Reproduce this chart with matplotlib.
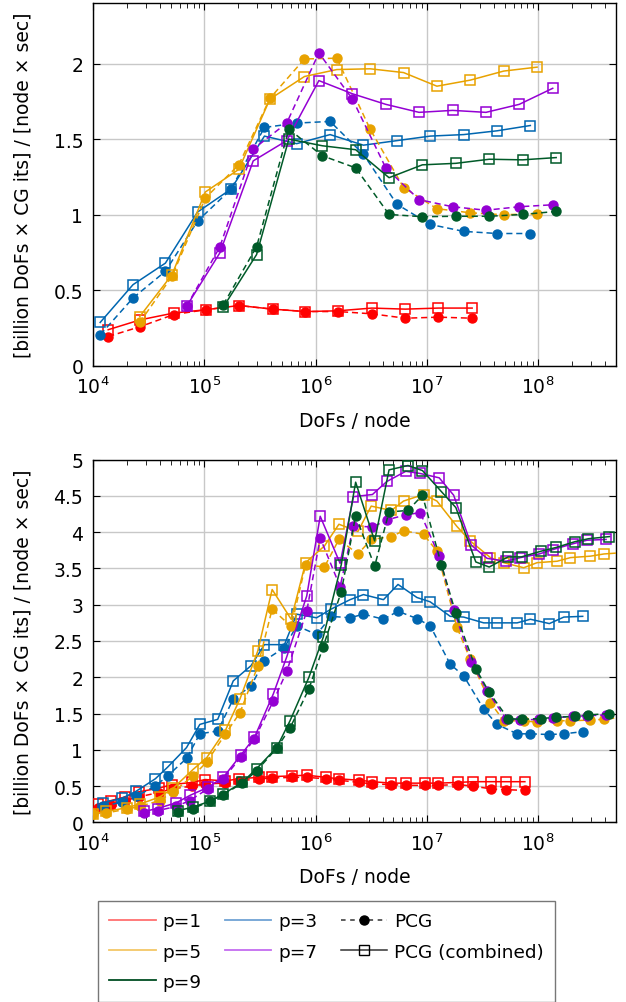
import matplotlib
matplotlib.use("Agg")
import matplotlib.pyplot as plt
from matplotlib.lines import Line2D
from matplotlib.ticker import LogLocator, FixedLocator, FixedFormatter, NullFormatter

plt.rcParams['font.family'] = ['DejaVu Sans']
plt.rcParams['mathtext.fontset'] = 'dejavusans'

# ---------------- data: top panel ----------------
top_p1_x = [1.37e4, 2.65e4, 5.3e4, 1.03e5, 2.05e5, 4.1e5, 8.1e5, 1.6e6, 3.2e6, 6.4e6, 1.27e7, 2.55e7]
top_p1_pcg = [0.195, 0.26, 0.34, 0.372, 0.40, 0.376, 0.36, 0.36, 0.345, 0.316, 0.323, 0.316]
top_p1_comb = [0.24, 0.305, 0.35, 0.372, 0.40, 0.376, 0.36, 0.365, 0.383, 0.376, 0.383, 0.383]

top_p3_x = [1.16e4, 2.29e4, 4.47e4, 8.7e4, 1.74e5, 3.47e5, 6.76e5, 1.35e6, 2.69e6, 5.37e6, 1.07e7, 2.14e7, 4.27e7, 8.5e7]
top_p3_pcg = [0.206, 0.45, 0.626, 0.958, 1.17, 1.577, 1.606, 1.617, 1.40, 1.07, 0.936, 0.89, 0.876, 0.876]
top_p3_comb = [0.288, 0.538, 0.68, 1.018, 1.17, 1.52, 1.47, 1.53, 1.46, 1.49, 1.52, 1.53, 1.555, 1.59]

top_p5_x = [2.63e4, 5.13e4, 1.02e5, 2.04e5, 3.89e5, 7.94e5, 1.55e6, 3.09e6, 6.17e6, 1.23e7, 2.45e7, 4.9e7, 9.77e7]
top_p5_pcg = [0.288, 0.593, 1.11, 1.33, 1.77, 2.03, 2.035, 1.566, 1.18, 1.04, 1.013, 1.00, 1.007]
top_p5_comb = [0.327, 0.604, 1.15, 1.30, 1.765, 1.914, 1.96, 1.965, 1.94, 1.85, 1.89, 1.95, 1.976]

top_p7_x = [6.92e4, 1.38e5, 2.75e5, 5.5e5, 1.07e6, 2.14e6, 4.27e6, 8.5e6, 1.7e7, 3.39e7, 6.76e7, 1.35e8]
top_p7_pcg = [0.394, 0.788, 1.434, 1.606, 2.07, 1.765, 1.31, 1.10, 1.053, 1.03, 1.053, 1.066]
top_p7_comb = [0.394, 0.748, 1.356, 1.49, 1.887, 1.80, 1.73, 1.677, 1.69, 1.677, 1.73, 1.836]

top_p9_x = [1.48e5, 2.95e5, 5.75e5, 1.15e6, 2.29e6, 4.57e6, 9.1e6, 1.82e7, 3.63e7, 7.24e7, 1.45e8]
top_p9_pcg = [0.405, 0.788, 1.566, 1.39, 1.31, 1.002, 0.987, 0.99, 0.99, 1.002, 1.022]
top_p9_comb = [0.389, 0.737, 1.50, 1.456, 1.43, 1.245, 1.33, 1.34, 1.367, 1.363, 1.378]

# ---------------- data: bottom panel ----------------
bot_p1_x = [1.10e4, 1.45e4, 1.95e4, 2.57e4, 3.89e4, 5.13e4, 7.76e4, 1.02e5, 1.55e5, 2.04e5, 3.09e5, 4.07e5,
            6.17e5, 8.32e5, 1.23e6, 1.62e6, 2.45e6, 3.24e6, 4.79e6, 6.46e6, 9.55e6, 1.26e7, 1.91e7, 2.57e7,
            3.8e7, 5.13e7, 7.59e7]
bot_p1_pcg = [0.20, 0.24, 0.30, 0.35, 0.41, 0.46, 0.50, 0.53, 0.54, 0.57, 0.60, 0.61, 0.62, 0.62, 0.60, 0.58,
              0.55, 0.53, 0.52, 0.51, 0.51, 0.51, 0.52, 0.50, 0.46, 0.45, 0.44]
bot_p1_comb = [0.25, 0.30, 0.35, 0.42, 0.47, 0.52, 0.55, 0.59, 0.57, 0.60, 0.62, 0.63, 0.64, 0.65, 0.62, 0.60,
               0.58, 0.56, 0.54, 0.54, 0.54, 0.54, 0.55, 0.56, 0.56, 0.56, 0.56]

bot_p3_x = [1.23e4, 1.82e4, 2.45e4, 3.63e4, 4.68e4, 6.92e4, 9.12e4, 1.32e5, 1.82e5, 2.63e5, 3.47e5, 5.25e5,
            6.76e5, 1.02e6, 1.38e6, 2.04e6, 2.69e6, 4.07e6, 5.5e6, 8.13e6, 1.07e7, 1.62e7, 2.14e7, 3.24e7,
            4.27e7, 6.46e7, 8.51e7, 1.26e8, 1.7e8, 2.51e8]
bot_p3_pcg = [0.22, 0.28, 0.36, 0.50, 0.64, 0.88, 1.22, 1.26, 1.70, 1.88, 2.23, 2.41, 2.71, 2.59, 2.84, 2.82,
              2.87, 2.80, 2.91, 2.81, 2.71, 2.18, 2.02, 1.56, 1.35, 1.22, 1.22, 1.21, 1.22, 1.25]
bot_p3_comb = [0.27, 0.33, 0.43, 0.60, 0.76, 1.03, 1.35, 1.42, 1.95, 2.16, 2.45, 2.45, 2.87, 2.82, 2.94, 3.07,
               3.14, 3.07, 3.28, 3.10, 3.04, 2.84, 2.83, 2.75, 2.75, 2.75, 2.80, 2.74, 2.83, 2.84]

bot_p5_x = [1.0e4, 1.32e4, 2.0e4, 2.63e4, 3.98e4, 5.25e4, 7.94e4, 1.05e5, 1.55e5, 2.09e5, 3.02e5, 4.07e5,
            6.03e5, 8.13e5, 1.2e6, 1.62e6, 2.4e6, 3.16e6, 4.79e6, 6.17e6, 9.33e6, 1.23e7, 1.86e7, 2.45e7,
            3.72e7, 4.9e7, 7.41e7, 9.77e7, 1.48e8, 1.95e8, 2.95e8, 3.89e8, 5.89e8]
bot_p5_pcg = [0.11, 0.13, 0.18, 0.22, 0.30, 0.42, 0.64, 0.83, 1.22, 1.51, 2.15, 2.94, 2.70, 3.55, 3.52, 3.90,
              3.70, 3.90, 3.94, 4.02, 3.97, 3.74, 2.69, 2.25, 1.65, 1.40, 1.40, 1.38, 1.40, 1.40, 1.41, 1.42, 1.45]
bot_p5_comb = [0.12, 0.15, 0.20, 0.25, 0.35, 0.47, 0.73, 0.89, 1.27, 1.70, 2.36, 3.21, 2.80, 3.58, 3.81, 4.11,
               4.01, 4.36, 4.30, 4.43, 4.52, 4.43, 4.08, 3.88, 3.65, 3.58, 3.51, 3.58, 3.60, 3.65, 3.67, 3.70, 3.72]

bot_p7_x = [2.88e4, 3.8e4, 5.62e4, 7.41e4, 1.07e5, 1.48e5, 2.14e5, 2.82e5, 4.17e5, 5.5e5, 8.32e5, 1.1e6,
            1.66e6, 2.19e6, 3.24e6, 4.37e6, 6.46e6, 8.71e6, 1.29e7, 1.74e7, 2.51e7, 3.47e7, 5.13e7, 6.92e7,
            1.02e8, 1.35e8, 2.04e8, 2.75e8, 4.07e8]
bot_p7_pcg = [0.13, 0.16, 0.22, 0.30, 0.46, 0.60, 0.90, 1.15, 1.67, 2.08, 2.91, 3.92, 3.25, 4.09, 4.07, 4.17,
              4.24, 4.27, 3.67, 2.93, 2.21, 1.81, 1.43, 1.41, 1.42, 1.44, 1.46, 1.47, 1.48]
bot_p7_comb = [0.15, 0.19, 0.27, 0.37, 0.48, 0.62, 0.93, 1.17, 1.77, 2.28, 3.12, 4.22, 3.57, 4.49, 4.52, 4.70,
               4.84, 4.81, 4.75, 4.51, 3.82, 3.64, 3.60, 3.65, 3.70, 3.76, 3.84, 3.89, 3.90]

bot_p9_x = [5.75e4, 7.94e4, 1.12e5, 1.48e5, 2.19e5, 2.95e5, 4.47e5, 5.89e5, 8.71e5, 1.17e6, 1.7e6, 2.29e6,
            3.39e6, 4.57e6, 6.76e6, 9.12e6, 1.35e7, 1.82e7, 2.75e7, 3.63e7, 5.37e7, 7.08e7, 1.07e8, 1.45e8,
            2.14e8, 2.82e8, 4.37e8]
bot_p9_pcg = [0.14, 0.19, 0.29, 0.38, 0.54, 0.71, 1.02, 1.30, 1.84, 2.42, 3.18, 4.23, 3.53, 4.28, 4.30, 4.51,
              3.55, 2.88, 2.12, 1.79, 1.43, 1.42, 1.43, 1.45, 1.46, 1.48, 1.50]
bot_p9_comb = [0.16, 0.21, 0.29, 0.39, 0.55, 0.74, 1.03, 1.40, 2.00, 2.55, 3.55, 4.69, 3.88, 4.86, 4.92, 4.85,
               4.56, 4.34, 3.59, 3.52, 3.66, 3.66, 3.74, 3.79, 3.87, 3.91, 3.94]

degrees = ['p=1', 'p=3', 'p=5', 'p=7', 'p=9']
colors = ['#ff0000', '#0066b0', '#e8a200', '#9400d3', '#005a28']
legend_colors = ['#ff7070', '#6fa3d4', '#f3c767', '#c46cf0', '#004d22']

top_series = [(top_p1_x, top_p1_pcg, top_p1_comb), (top_p3_x, top_p3_pcg, top_p3_comb),
              (top_p5_x, top_p5_pcg, top_p5_comb), (top_p7_x, top_p7_pcg, top_p7_comb),
              (top_p9_x, top_p9_pcg, top_p9_comb)]
bot_series = [(bot_p1_x, bot_p1_pcg, bot_p1_comb), (bot_p3_x, bot_p3_pcg, bot_p3_comb),
              (bot_p5_x, bot_p5_pcg, bot_p5_comb), (bot_p7_x, bot_p7_pcg, bot_p7_comb),
              (bot_p9_x, bot_p9_pcg, bot_p9_comb)]

W, H = 626, 1003
fig = plt.figure(figsize=(W / 100, H / 100), dpi=100)

ax_top = fig.add_axes([93 / W, 1 - 367 / H, (616 - 93) / W, 363 / H])
ax_bot = fig.add_axes([93 / W, 1 - 823.3 / H, (616 - 93) / W, 362.6 / H])

FS = 13.5
ylabel = '[billion DoFs \u00d7 CG its] / [node \u00d7 sec]'


def draw(ax, series, ylim, yticks, ylabels):
    for (x, pcg, comb), c in zip(series, colors):
        ax.plot(x, pcg, color=c, lw=1.1, ls=(0, (4, 2.5)), marker='o', ms=6.5,
                mfc=c, mec=c, zorder=3)
        ax.plot(x, comb, color=c, lw=1.1, ls='-', marker='s', ms=7.5,
                mfc='none', mec=c, mew=1.1, zorder=3)
    ax.set_xscale('log')
    ax.set_xlim(1e4, 5e8)
    ax.set_ylim(*ylim)
    ax.xaxis.set_major_locator(LogLocator(base=10, numticks=10))
    ax.xaxis.set_minor_locator(LogLocator(base=10, subs=range(2, 10), numticks=100))
    ax.xaxis.set_minor_formatter(NullFormatter())
    ax.yaxis.set_major_locator(FixedLocator(yticks))
    ax.yaxis.set_major_formatter(FixedFormatter(ylabels))
    ax.grid(True, which='major', color='#c8c8c8', lw=1.0, zorder=0)
    ax.set_axisbelow(True)
    ax.tick_params(which='both', direction='in', top=True, right=True, labelsize=FS)
    ax.tick_params(which='major', length=5, width=0.8)
    ax.tick_params(which='minor', length=3.5, width=0.6)
    ax.tick_params(axis='y', which='major', pad=7)
    ax.tick_params(axis='x', which='major', pad=7)
    for s in ax.spines.values():
        s.set_linewidth(1.0)
    ax.set_xlabel('DoFs / node', fontsize=FS, labelpad=10)
    ax.set_ylabel(ylabel, fontsize=FS, labelpad=15)


draw(ax_top, top_series, (0, 2.4), [0, 0.5, 1, 1.5, 2], ['0', '0.5', '1', '1.5', '2'])
draw(ax_bot, bot_series, (0, 5), [0, 0.5, 1, 1.5, 2, 2.5, 3, 3.5, 4, 4.5, 5],
     ['0', '0.5', '1', '1.5', '2', '2.5', '3', '3.5', '4', '4.5', '5'])

# legend
handles = []
labels = []
order = [0, 2, 4, 1, 3]
for i in order:
    handles.append(Line2D([], [], color=legend_colors[i], lw=1.3))
    labels.append(degrees[i])
handles.append(Line2D([], [], color='#333333', lw=1.1, ls=(0, (3, 3)), marker='o', ms=6.5,
                      mfc='black', mec='black'))
labels.append('PCG')
handles.append(Line2D([], [], color='#333333', lw=1.1, ls='-', marker='s', ms=7.5,
                      mfc='none', mec='black'))
labels.append('PCG (combined)')

leg = fig.legend(handles, labels, ncol=3, loc='upper left',
                 bbox_to_anchor=(98 / W, 1 - 902 / H),
                 fontsize=13.3, frameon=True, fancybox=False,
                 edgecolor='#555555', handlelength=2.5, handletextpad=0.35,
                 columnspacing=1.3, labelspacing=0.66, borderpad=0.62, borderaxespad=0)
leg.get_frame().set_linewidth(1.0)

fig.savefig('out.png', dpi=100)
